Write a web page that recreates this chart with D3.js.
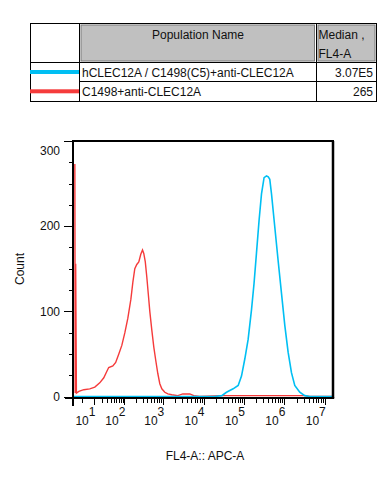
<!DOCTYPE html>
<html>
<head>
<meta charset="utf-8">
<script src="https://cdn.jsdelivr.net/npm/d3@7"></script>
<style>
  body { margin: 0; background: #fff; }
  svg text { font-family: "Liberation Sans", Arial, sans-serif; fill: #111; }
</style>
</head>
<body>
<svg id="chart" width="389" height="477"></svg>
<script>
var width = 389;
var height = 477;

// legend table
var populations = ["hCLEC12A / C1498(C5)+anti-CLEC12A", "C1498+anti-CLEC12A"];
var medians = ["3.07E5", "265"];
var popColors = ["#00bff3", "#f53b3b"];

// axes
var yTicks = [0, 100, 200, 300];
var xDecades = [1, 2, 3, 4, 5, 6, 7];

// histograms (FL4-A value, count)
var redX = [-5.3, -5.0, -4.6, -4.0, -2.2, 0.9, 5.3, 10.4, 17, 24, 30, 35, 47, 57, 70, 85, 103, 124, 149, 168,
            189, 213, 240, 270, 299, 322, 352, 385, 420, 458, 515, 578, 649, 729, 818, 918, 1090, 1300, 1630,
            2300, 3060, 4560, 5730, 8070, 28000, 3200000, 4260000, 16000000];
var redCount = [273, 4, 156, 4, 6, 8, 9, 11, 16, 22, 29, 34, 36, 40, 50, 60, 75, 92, 114, 134,
                150, 155, 158, 167, 172, 168, 158, 140, 120, 100, 78, 58, 42, 27, 15, 9, 5, 3, 2,
                1, 3, 3, 1, 0, 1, 1, 0, 0];
var blueX = [-7, 19000, 28300, 37000, 54000, 72000, 87000, 105000, 127000, 154000, 178000, 204000, 237000,
             272000, 315000, 362000, 400000, 436000, 481000, 580000, 700000, 850000, 1030000, 1240000,
             1500000, 1810000, 2410000, 3200000, 4260000, 16000000];
var blueCount = [0, 0, 1, 5, 9, 13, 24, 44, 67, 102, 133, 168, 207, 238, 257, 259, 258, 255, 238, 199,
                 160, 121, 83, 52, 28, 13, 5, 1, 0, 0];

var svg = d3.select("#chart");

//---------------- table ----------------
var tbl = svg.append("g");
var tLeft = 30.5, tRight = 376.5, tTop = 23.5, tBottom = 101.5;
var col1 = 79.5, col2 = 316.5, rowHead = 62.5, row1 = 81.5;

// gray header cells
tbl.append("rect").attr("x", col1 + 1.5).attr("y", tTop + 1.5)
   .attr("width", col2 - col1 - 3.5).attr("height", rowHead - tTop - 3)
   .attr("fill", "#c0c0c0").attr("stroke", "#7a7a7a").attr("stroke-width", 1);
tbl.append("rect").attr("x", col2 + 1.5).attr("y", tTop + 1.5)
   .attr("width", tRight - col2 - 3).attr("height", rowHead - tTop - 3)
   .attr("fill", "#c0c0c0").attr("stroke", "#7a7a7a").attr("stroke-width", 1);

tbl.append("rect").attr("x", tLeft).attr("y", tTop)
   .attr("width", tRight - tLeft).attr("height", tBottom - tTop)
   .attr("fill", "none").attr("stroke", "#000");
tbl.append("line").attr("x1", col1).attr("x2", col1).attr("y1", tTop).attr("y2", tBottom).attr("stroke", "#000");
tbl.append("line").attr("x1", col2).attr("x2", col2).attr("y1", tTop).attr("y2", tBottom).attr("stroke", "#000");
tbl.append("line").attr("x1", tLeft).attr("x2", tRight).attr("y1", rowHead).attr("y2", rowHead).attr("stroke", "#000");
tbl.append("line").attr("x1", col1).attr("x2", tRight).attr("y1", row1).attr("y2", row1).attr("stroke", "#000");

tbl.append("text").attr("x", (col1 + col2) / 2).attr("y", 38.5)
   .attr("text-anchor", "middle").style("font-size", "12px").text("Population Name");
tbl.append("text").attr("x", col2 + 2).attr("y", 38.5).style("font-size", "12px").text("Median ,");
tbl.append("text").attr("x", col2 + 2).attr("y", 57.5).style("font-size", "12px").text("FL4-A");

var rowBase = [76.5, 96];
var swatchY = [70, 89.3];
populations.forEach(function(p, i) {
  tbl.append("rect").attr("x", 30).attr("y", swatchY[i]).attr("width", 49).attr("height", 4)
     .attr("fill", popColors[i]);
  tbl.append("text").attr("x", col1 + 2.5).attr("y", rowBase[i]).style("font-size", "12px").text(p);
  tbl.append("text").attr("x", 373).attr("y", rowBase[i]).attr("text-anchor", "end")
     .style("font-size", "12px").text(medians[i]);
});

//---------------- plot ----------------
var plotLeft = 73, plotRight = 333, plotTop = 141, axisY = 398;

var x = d3.scaleSymlog().constant(10).domain([-7, 16000000]).range([plotLeft, plotRight]);
var y = d3.scaleLinear().domain([0, 300]).range([396.5, plotTop]);

var line = d3.line()
  .x(function(d) { return x(d[0]); })
  .y(function(d) { return y(d[1]); });

var redData = redX.map(function(v, i) { return [v, redCount[i]]; });
var blueData = blueX.map(function(v, i) { return [v, blueCount[i]]; });

svg.append("path").datum(redData).attr("d", line)
   .attr("fill", "none").attr("stroke", popColors[1]).attr("stroke-width", 1.4);
svg.append("path").datum(blueData).attr("d", line)
   .attr("fill", "none").attr("stroke", popColors[0]).attr("stroke-width", 1.6);

// frame
svg.append("line").attr("x1", plotLeft).attr("x2", plotRight + 1).attr("y1", plotTop).attr("y2", plotTop)
   .attr("stroke", "#000").attr("stroke-width", 2);
svg.append("line").attr("x1", plotRight).attr("x2", plotRight).attr("y1", plotTop).attr("y2", axisY)
   .attr("stroke", "#000").attr("stroke-width", 2.5);

// y axis
var yMinor = d3.range(0, 301, 25);
svg.append("g").selectAll("line").data(yMinor).enter().append("line")
   .attr("x1", function(d) { return d % 100 === 0 ? 64 : 69; }).attr("x2", plotLeft)
   .attr("y1", function(d) { return Math.round(y(d)) + 0.5; })
   .attr("y2", function(d) { return Math.round(y(d)) + 0.5; })
   .attr("stroke", "#000");
svg.append("line").attr("x1", plotLeft).attr("x2", plotLeft).attr("y1", plotTop - 1).attr("y2", 406)
   .attr("stroke", "#000").attr("stroke-width", 2);
svg.append("g").selectAll("text").data(yTicks).enter().append("text")
   .attr("x", 60).attr("y", function(d) { return Math.max(y(d), 150.5) + 4.3; })
   .attr("text-anchor", "end").style("font-size", "12px")
   .text(function(d) { return d; });

// x axis
var xMinor = [0];
xDecades.forEach(function(k) {
  if (k < 7) {
    for (var m = 1; m < 10; m++) xMinor.push(m * Math.pow(10, k));
  } else {
    xMinor.push(Math.pow(10, k));
  }
});
svg.append("line").attr("x1", 65).attr("x2", plotRight + 1.2).attr("y1", axisY).attr("y2", axisY)
   .attr("stroke", "#000").attr("stroke-width", 2);
svg.append("g").selectAll("line").data(xMinor).enter().append("line")
   .attr("x1", function(d) { return Math.round(x(d)) + 0.5; })
   .attr("x2", function(d) { return Math.round(x(d)) + 0.5; })
   .attr("y1", axisY)
   .attr("y2", function(d) { return xDecades.indexOf(Math.log10(d)) >= 0 ? axisY + 7 : axisY + 5; })
   .attr("stroke", "#000");

var xLab = svg.append("g").selectAll("text").data(xDecades).enter().append("text")
   .attr("x", function(d) { return x(Math.pow(10, d)) + 1; })
   .attr("y", 425).attr("text-anchor", "end").style("font-size", "12px");
xLab.append("tspan").text("10");
xLab.append("tspan").attr("dy", -9).text(function(d) { return d; });

// axis titles
svg.append("text").attr("x", 205).attr("y", 460).attr("text-anchor", "middle")
   .style("font-size", "12px").text("FL4-A:: APC-A");
svg.append("text").attr("transform", "translate(23.5,269) rotate(-90)")
   .attr("text-anchor", "middle").style("font-size", "12px").text("Count");
</script>
</body>
</html>
